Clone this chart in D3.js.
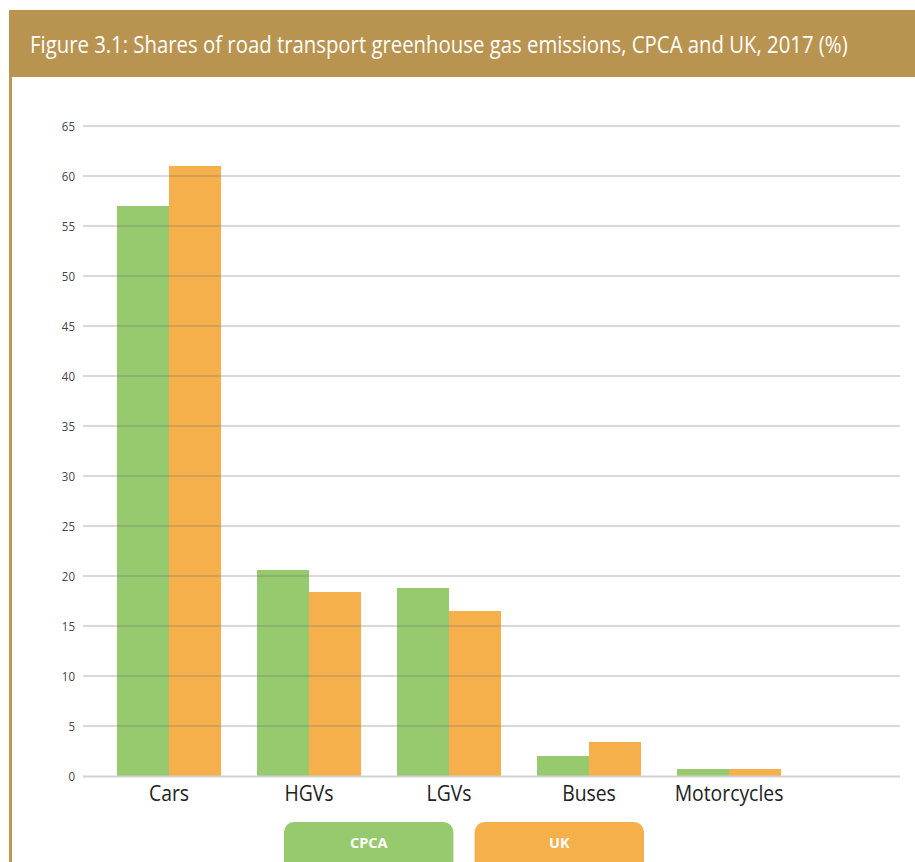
<!DOCTYPE html>
<html><head><meta charset="utf-8">
<script src="https://cdn.jsdelivr.net/npm/d3@7"></script>
<style>body{margin:0;background:#fff}svg{display:block}</style>
</head><body>
<svg id="c" width="915" height="862"></svg>
<script>
const categories = ["Cars", "HGVs", "LGVs", "Buses", "Motorcycles"];
const seriesNames = ["CPCA", "UK"];
const cpca = [57, 20.6, 18.8, 2.0, 0.7];
const uk = [61, 18.4, 16.5, 3.4, 0.7];
const yTicks = [0, 5, 10, 15, 20, 25, 30, 35, 40, 45, 50, 55, 60, 65];
const title = "Figure 3.1: Shares of road transport greenhouse gas emissions, CPCA and UK, 2017 (%)";

const colors = {CPCA: "#97c96e", UK: "#f5b04b"};
const svg = d3.select("#c");

// compress a text element horizontally (condensed look)
function condense(sel, k) {
  sel.each(function () {
    const w = this.getComputedTextLength();
    d3.select(this).attr("textLength", w * k).attr("lengthAdjust", "spacingAndGlyphs");
  });
}

// header
svg.append("rect").attr("x", 9).attr("y", 10).attr("width", 906).attr("height", 67).attr("fill", "#b99350");
svg.append("rect").attr("x", 9).attr("y", 77).attr("width", 3).attr("height", 785).attr("fill", "#c09650");
const tt = svg.append("text").attr("x", 0).attr("y", 0).attr("fill", "#fff")
  .attr("font-family", "'Open Sans', sans-serif").attr("font-size", 23).text(title);
const tw = tt.node().getComputedTextLength();
tt.attr("transform", `translate(30,53) scale(${818 / tw},1)`);

const y = d3.scaleLinear().domain([0, 65]).range([776, 126]);
const x0 = d3.scaleBand().domain(categories).range([99, 799]).paddingInner(0.257).paddingOuter(0.1285);
const x1 = d3.scaleBand().domain(seriesNames).range([0, x0.bandwidth()]);

const data = categories.map((c, i) => ({cat: c, vals: [{k: "CPCA", v: cpca[i]}, {k: "UK", v: uk[i]}]}));

// bars
svg.append("g").selectAll("g.grp").data(data).join("g").attr("class", "grp")
  .attr("transform", d => `translate(${x0(d.cat)},0)`)
  .selectAll("rect").data(d => d.vals).join("rect")
  .attr("x", d => x1(d.k)).attr("width", x1.bandwidth())
  .attr("y", d => y(d.v)).attr("height", d => y(0) - y(d.v))
  .attr("fill", d => colors[d.k]);

// y axis labels
const yAxis = d3.axisLeft(y).tickValues(yTicks).tickSize(0).tickPadding(8);
const ga = svg.append("g").attr("transform", "translate(83,0)").call(yAxis);
ga.select(".domain").remove();
ga.selectAll("text").attr("font-family", "'Open Sans', sans-serif").attr("font-size", 12.5).attr("fill", "#444");
condense(ga.selectAll("text"), 0.92);

// grid (drawn over bars)
svg.append("g").selectAll("line").data(yTicks.filter(v => v > 0)).join("line")
  .attr("x1", 83).attr("x2", 900).attr("y1", d => y(d)).attr("y2", d => y(d))
  .attr("stroke", "#777").attr("stroke-opacity", 0.55).attr("stroke-width", 1);
svg.append("line").attr("x1", 83).attr("x2", 900).attr("y1", y(0) + 0.5).attr("y2", y(0) + 0.5)
  .attr("stroke", "#d2d2d2").attr("stroke-width", 2);

// x axis labels
const xAxis = d3.axisBottom(x0).tickSize(0).tickPadding(9);
const gx = svg.append("g").attr("transform", `translate(0,${y(0)})`).call(xAxis);
gx.select(".domain").remove();
gx.selectAll("text").attr("font-family", "'Open Sans', sans-serif").attr("font-size", 22.5).attr("fill", "#222");
condense(gx.selectAll("text"), 0.86);

// legend
const legX = d3.scaleBand().domain(seriesNames).range([284, 644]).paddingInner(20 / 180);
const lg = svg.append("g").selectAll("g").data(seriesNames).join("g");
lg.append("rect").attr("x", d => legX(d)).attr("y", 822).attr("width", legX.bandwidth()).attr("height", 60)
  .attr("rx", 10).attr("fill", d => colors[d]);
lg.append("text").attr("x", d => legX(d) + legX.bandwidth() / 2).attr("y", 848).attr("text-anchor", "middle")
  .attr("fill", "#fff").attr("font-family", "'Open Sans', sans-serif").attr("font-weight", "bold").attr("font-size", 14.5).text(d => d);
</script>
</body></html>
